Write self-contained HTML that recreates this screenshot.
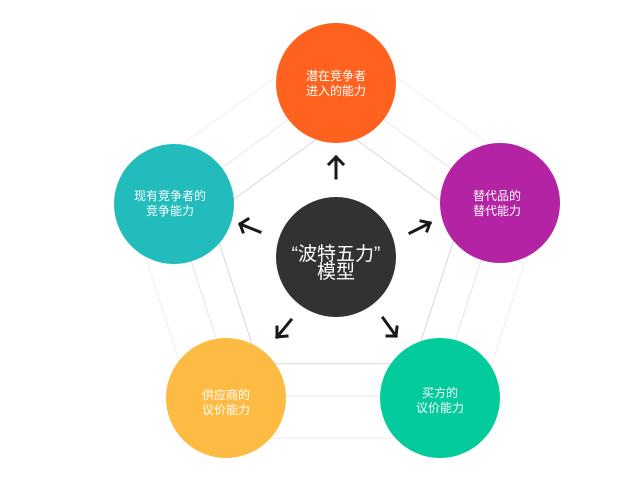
<!DOCTYPE html>
<html><head><meta charset="utf-8"><style>
html,body{margin:0;padding:0;background:#fff;}
svg text{font-family:"Liberation Sans","Noto Sans CJK SC",sans-serif;fill:#fff;text-anchor:middle;}
</style></head><body>
<svg width="624" height="480" viewBox="0 0 624 480" xmlns="http://www.w3.org/2000/svg">
<g fill="none" stroke-width="1">
<polygon stroke="#d8d8d8" points="336,125 461.5,216.2 413.6,363.8 258.4,363.8 210.5,216.2"/>
<polygon stroke="#e6e6e6" points="336,85 499.6,203.8 437.1,396.2 234.9,396.2 172.4,203.8"/>
<polygon stroke="#efefef" points="336,33 549,187.8 467.7,438.2 204.3,438.2 123,187.8"/>
</g>
<circle cx="336" cy="83" r="60" fill="#ff621f"/>
<circle cx="174" cy="204" r="60" fill="#23bcbc"/>
<circle cx="500" cy="203" r="60" fill="#b423a3"/>
<circle cx="226" cy="398" r="60" fill="#febb43"/>
<circle cx="440" cy="398" r="60" fill="#03cb9b"/>
<circle cx="336" cy="257" r="60" fill="#323232"/>
<g stroke="#1a1a1a" stroke-width="3" fill="none" stroke-linecap="square">
<path d="M336 178 V157 M329 164 L336 157 L343 164"/>
<path d="M260 232 L240 224 M243 232 L240 224 L248 219"/>
<path d="M410 233 L430 223 M421 221 L430 223 L427 231"/>
<path d="M291 320 L277 337 M277 327 L277 337 L287 336"/>
<path d="M383 318 L396 336 M387 336 L396 336 L397 327"/>
</g>
<text x="336" y="80" font-size="12">潜在竞争者</text>
<text x="336" y="95" font-size="12">进入的能力</text>
<text x="170" y="200" font-size="12">现有竞争者的</text>
<text x="170" y="215" font-size="12">竞争能力</text>
<text x="497" y="200" font-size="12">替代品的</text>
<text x="497" y="215" font-size="12">替代能力</text>
<text x="226" y="399" font-size="12">供应商的</text>
<text x="226" y="414" font-size="12">议价能力</text>
<text x="440" y="397" font-size="12">买方的</text>
<text x="440" y="412" font-size="12">议价能力</text>
<text x="336" y="260" font-size="19">“波特五力”</text>
<text x="336" y="278" font-size="19">模型</text>
</svg>
</body></html>
